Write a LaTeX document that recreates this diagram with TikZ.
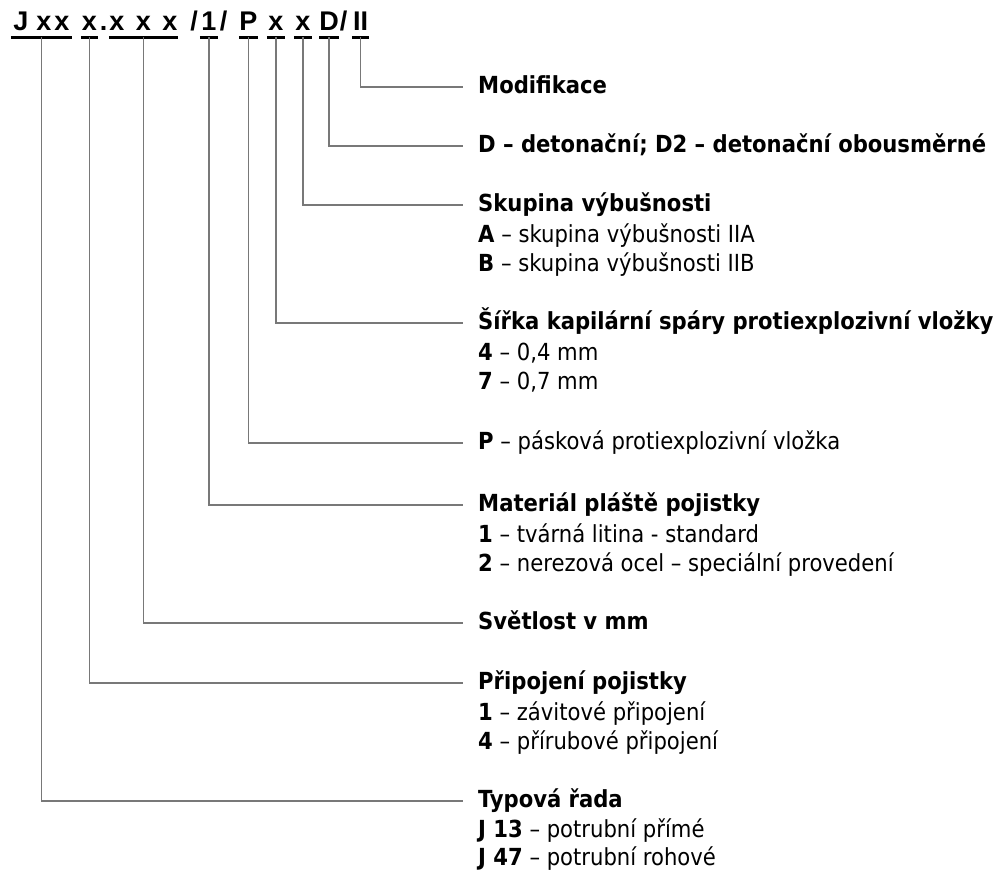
\documentclass[tikz,border=0pt]{standalone}
\usepackage{fontspec}
\setmainfont{DejaVu Sans Condensed}
\newfontfamily\headfont{Liberation Sans}
\definecolor{leadgray}{RGB}{120,120,120}
\tikzset{
  hdr/.style={anchor=base, font=\headfont\bfseries\fontsize{27}{30}\selectfont, inner sep=0pt, text depth=6pt},
  uline/.style={black, line width=3pt},
  lead/.style={leadgray, line width=1.5pt},
  lbl/.style={font=\fontsize{23.5}{27}\selectfont, inner xsep=15pt, inner ysep=0pt, text height=13pt, text depth=0pt},
}
\begin{document}
\begin{tikzpicture}[x=1pt,y=-1pt]
        \useasboundingbox (0,0) rectangle (1003,872);
        % header code
        \node [hdr, minimum width=61pt] (hJ) at (41.5,31) {J\hspace{8pt}x\hspace{3pt}x};
        \node [hdr, minimum width=17pt] (hX1) at (89.5,31) {x};
        \node [hdr] (dot) at (103.5,31) {.};
        \node [hdr, minimum width=69pt] (hX3) at (143.5,31) {x\hspace{11.5pt}x\hspace{11.5pt}x};
        \node [hdr] (sl1) at (194,31) {/};
        \node [hdr, minimum width=18pt] (h1) at (209,31) {1};
        \node [hdr] (sl2) at (223.5,31) {/};
        \node [hdr, minimum width=19pt] (hP) at (248.5,31) {P};
        \node [hdr, minimum width=18pt] (hK) at (276,31) {x};
        \node [hdr, minimum width=18pt] (hS) at (303,31) {x};
        \node [hdr, minimum width=18pt] (hD) at (329,31) {D};
        \node [hdr] (sl3) at (343.5,31) {/};
        \node [hdr, minimum width=17pt] (hII) at (360.5,31) {II};
        \draw [uline] (hJ.south west) -- (hJ.south east);
        \draw [uline] (hX1.south west) -- (hX1.south east);
        \draw [uline] (hX3.south west) -- (hX3.south east);
        \draw [uline] (h1.south west) -- (h1.south east);
        \draw [uline] (hP.south west) -- (hP.south east);
        \draw [uline] (hK.south west) -- (hK.south east);
        \draw [uline] (hS.south west) -- (hS.south east);
        \draw [uline] (hD.south west) -- (hD.south east);
        \draw [uline] (hII.south west) -- (hII.south east);
        % popisky
        \node [lbl, anchor=west] (tMod) at (463,87) {\textbf{Modifikace}};
        \node [lbl, anchor=west] (tDet) at (463,146) {\textbf{D – detonační; D2 – detonační obousměrné}};
        \node [lbl, anchor=west] (tSku) at (463,205) {\textbf{Skupina výbušnosti}};
        \node [lbl, anchor=base west] (tSkuA) at (463,242) {\textbf{A} – skupina výbušnosti IIA};
        \node [lbl, anchor=base west] (tSkuB) at (463,271.5) {\textbf{B} – skupina výbušnosti IIB};
        \node [lbl, anchor=west] (tSir) at (463,323) {\textbf{Šířka kapilární spáry protiexplozivní vložky}};
        \node [lbl, anchor=base west] (tSir4) at (463,360) {\textbf{4} – 0,4 mm};
        \node [lbl, anchor=base west] (tSir7) at (463,389.5) {\textbf{7} – 0,7 mm};
        \node [lbl, anchor=west] (tPas) at (463,443) {\textbf{P} – pásková protiexplozivní vložka};
        \node [lbl, anchor=west] (tMat) at (463,505) {\textbf{Materiál pláště pojistky}};
        \node [lbl, anchor=base west] (tMat1) at (463,542) {\textbf{1} – tvárná litina - standard};
        \node [lbl, anchor=base west] (tMat2) at (463,571.5) {\textbf{2} – nerezová ocel – speciální provedení};
        \node [lbl, anchor=west] (tSve) at (463,623) {\textbf{Světlost v mm}};
        \node [lbl, anchor=west] (tPri) at (463,683) {\textbf{Připojení pojistky}};
        \node [lbl, anchor=base west] (tPri1) at (463,720) {\textbf{1} – závitové připojení};
        \node [lbl, anchor=base west] (tPri4) at (463,749.5) {\textbf{4} – přírubové připojení};
        \node [lbl, anchor=west] (tTyp) at (463,801) {\textbf{Typová řada}};
        \node [lbl, anchor=base west] (tTyp13) at (463,837) {\textbf{J 13} – potrubní přímé};
        \node [lbl, anchor=base west] (tTyp47) at (463,865.5) {\textbf{J 47} – potrubní rohové};
        % vodici cary
        \draw [lead] (hII.south) |- (tMod.west);
        \draw [lead] (hD.south) |- (tDet.west);
        \draw [lead] (hS.south) |- (tSku.west);
        \draw [lead] (hK.south) |- (tSir.west);
        \draw [lead] (hP.south) |- (tPas.west);
        \draw [lead] (h1.south) |- (tMat.west);
        \draw [lead] (hX3.south) |- (tSve.west);
        \draw [lead] (hX1.south) |- (tPri.west);
        \draw [lead] (hJ.south) |- (tTyp.west);
\end{tikzpicture}
\end{document}
